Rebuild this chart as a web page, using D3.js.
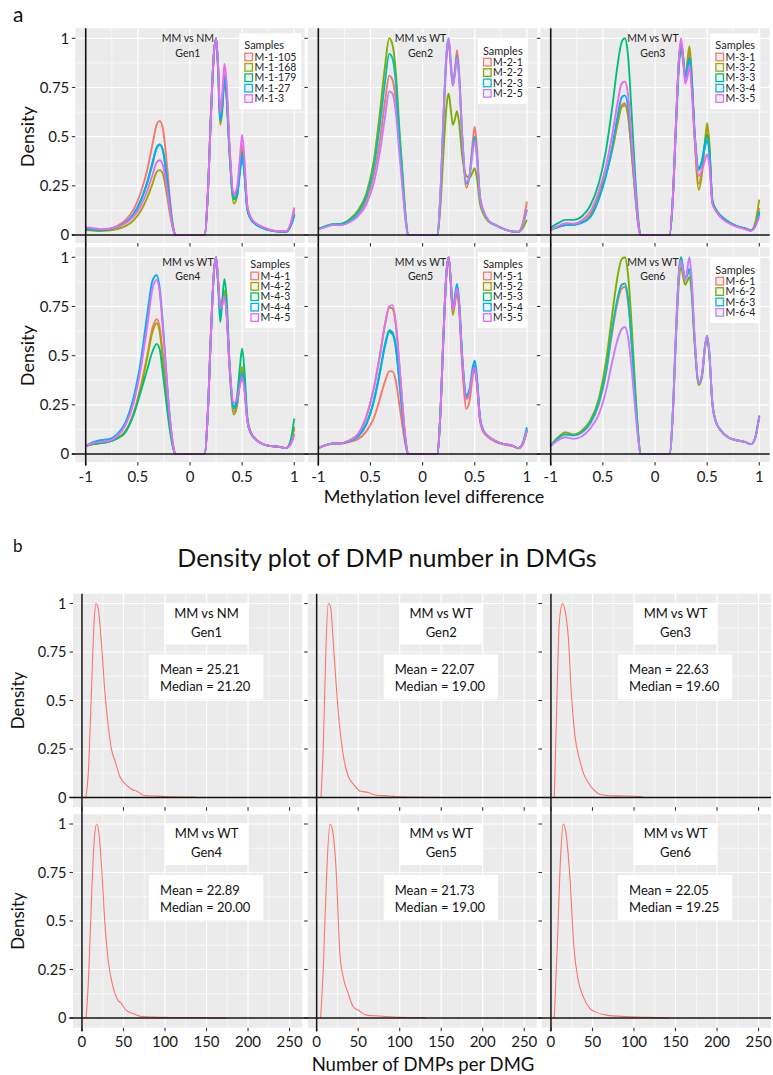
<!DOCTYPE html>
<html>
<head>
<meta charset="utf-8">
<script src="https://cdn.jsdelivr.net/npm/d3@7"></script>
<style>
  html, body { margin: 0; padding: 0; background: #ffffff; }
  svg { display: block; }
</style>
</head>
<body>
<svg id="chart" width="773" height="1075"></svg>
<script>
// ---------------- Panel a data: scaled density of methylation level difference ----------------
const methylationLevel = [
  -1, -0.93, -0.86, -0.78, -0.7, -0.62, -0.54, -0.47, -0.41, -0.36, -0.32, -0.29, -0.26, -0.22, -0.19, -0.16, -0.14,
  0.14, 0.17, 0.2, 0.23, 0.25, 0.27, 0.29, 0.31, 0.33, 0.35, 0.38, 0.42, 0.45, 0.48, 0.5, 0.52, 0.55, 0.58, 0.63, 0.7, 0.78, 0.86, 0.92, 0.96, 1.0
];

const gen1Samples = ["M-1-105", "M-1-168", "M-1-179", "M-1-27", "M-1-3"];
const gen1Density = [
  [0.03,0.028,0.026,0.03,0.045,0.075,0.13,0.22,0.33,0.46,0.56,0.58,0.54,0.35,0.17,0.04,0,
   0,0.2,0.6,0.93,1.0,0.85,0.6,0.68,0.82,0.74,0.43,0.2,0.22,0.37,0.46,0.36,0.14,0.09,0.06,0.04,0.025,0.018,0.018,0.045,0.13],
  [0.025,0.022,0.02,0.022,0.03,0.045,0.075,0.125,0.19,0.26,0.32,0.33,0.31,0.2,0.1,0.025,0,
   0,0.2,0.6,0.93,1.0,0.83,0.56,0.63,0.78,0.7,0.4,0.16,0.19,0.35,0.43,0.34,0.13,0.085,0.055,0.035,0.022,0.016,0.016,0.04,0.11],
  [0.03,0.026,0.024,0.028,0.04,0.062,0.105,0.175,0.265,0.36,0.44,0.46,0.43,0.28,0.14,0.032,0,
   0,0.2,0.6,0.93,1.0,0.84,0.58,0.66,0.8,0.72,0.42,0.18,0.2,0.34,0.42,0.33,0.13,0.085,0.055,0.035,0.022,0.017,0.016,0.04,0.1],
  [0.035,0.03,0.027,0.03,0.042,0.064,0.108,0.18,0.27,0.37,0.445,0.46,0.43,0.28,0.14,0.032,0,
   0,0.2,0.6,0.93,1.0,0.84,0.58,0.66,0.8,0.72,0.42,0.19,0.2,0.32,0.4,0.32,0.13,0.085,0.055,0.035,0.022,0.017,0.016,0.04,0.1],
  [0.04,0.035,0.03,0.032,0.042,0.06,0.095,0.15,0.225,0.305,0.37,0.38,0.355,0.23,0.115,0.027,0,
   0,0.2,0.6,0.93,1.0,0.86,0.62,0.72,0.87,0.78,0.45,0.21,0.24,0.4,0.51,0.4,0.15,0.095,0.06,0.04,0.025,0.02,0.02,0.05,0.14]
];

const gen2Samples = ["M-2-1", "M-2-2", "M-2-3", "M-2-5"];
const gen2Density = [
  [0.03,0.044,0.052,0.053,0.07,0.105,0.175,0.3,0.48,0.68,0.81,0.79,0.7,0.44,0.24,0.065,0,
   0,0.19,0.58,0.9,0.97,0.86,0.76,0.84,0.94,0.83,0.5,0.24,0.3,0.47,0.55,0.45,0.2,0.13,0.075,0.05,0.03,0.018,0.016,0.06,0.17],
  [0.03,0.045,0.055,0.058,0.08,0.125,0.21,0.37,0.62,0.86,1.0,0.97,0.85,0.52,0.3,0.08,0,
   0,0.14,0.42,0.66,0.72,0.64,0.56,0.59,0.63,0.57,0.4,0.3,0.29,0.32,0.34,0.29,0.16,0.11,0.07,0.05,0.03,0.018,0.016,0.035,0.077],
  [0.03,0.045,0.055,0.056,0.075,0.115,0.195,0.34,0.56,0.78,0.92,0.9,0.79,0.49,0.27,0.075,0,
   0,0.2,0.6,0.93,1.0,0.88,0.76,0.83,0.91,0.81,0.5,0.26,0.3,0.44,0.5,0.41,0.19,0.125,0.075,0.05,0.03,0.018,0.017,0.05,0.13],
  [0.028,0.04,0.05,0.05,0.065,0.095,0.155,0.26,0.42,0.6,0.73,0.72,0.64,0.4,0.22,0.06,0,
   0,0.2,0.6,0.93,1.0,0.88,0.76,0.82,0.9,0.8,0.5,0.27,0.3,0.42,0.48,0.4,0.19,0.125,0.075,0.05,0.03,0.018,0.017,0.05,0.13]
];

const gen3Samples = ["M-3-1", "M-3-2", "M-3-3", "M-3-4", "M-3-5"];
const gen3Density = [
  [0.026,0.04,0.05,0.052,0.065,0.1,0.2,0.31,0.44,0.57,0.66,0.67,0.62,0.4,0.21,0.05,0,
   0,0.18,0.55,0.89,0.98,0.9,0.8,0.86,0.93,0.82,0.5,0.26,0.33,0.47,0.55,0.46,0.17,0.13,0.095,0.065,0.045,0.033,0.023,0.05,0.137],
  [0.026,0.04,0.05,0.052,0.065,0.1,0.2,0.31,0.43,0.56,0.65,0.66,0.61,0.39,0.21,0.05,0,
   0,0.18,0.55,0.89,0.98,0.91,0.8,0.88,0.96,0.84,0.5,0.23,0.31,0.48,0.57,0.48,0.17,0.13,0.095,0.065,0.045,0.033,0.023,0.06,0.18],
  [0.038,0.06,0.077,0.077,0.095,0.15,0.26,0.43,0.65,0.86,0.98,1.0,0.92,0.58,0.3,0.08,0,
   0,0.17,0.53,0.86,0.95,0.88,0.8,0.85,0.9,0.8,0.52,0.34,0.38,0.47,0.51,0.44,0.18,0.135,0.1,0.07,0.047,0.035,0.025,0.045,0.11],
  [0.026,0.04,0.05,0.052,0.062,0.09,0.18,0.3,0.45,0.6,0.7,0.71,0.66,0.42,0.22,0.055,0,
   0,0.18,0.55,0.89,0.98,0.9,0.8,0.85,0.9,0.8,0.52,0.33,0.37,0.45,0.48,0.42,0.17,0.13,0.095,0.065,0.045,0.033,0.023,0.045,0.12],
  [0.028,0.045,0.06,0.058,0.075,0.12,0.22,0.35,0.51,0.67,0.77,0.78,0.72,0.45,0.24,0.06,0,
   0,0.18,0.55,0.9,1.0,0.9,0.77,0.8,0.86,0.75,0.5,0.3,0.33,0.38,0.41,0.36,0.16,0.125,0.09,0.062,0.043,0.03,0.022,0.04,0.094]
];

const gen4Samples = ["M-4-1", "M-4-2", "M-4-3", "M-4-4", "M-4-5"];
const gen4Density = [
  [0.04,0.05,0.055,0.063,0.08,0.115,0.21,0.35,0.5,0.64,0.685,0.64,0.5,0.27,0.13,0.03,0,
   0,0.2,0.6,0.93,1.0,0.88,0.76,0.78,0.82,0.73,0.44,0.215,0.25,0.37,0.43,0.36,0.17,0.11,0.075,0.05,0.04,0.036,0.03,0.055,0.14],
  [0.04,0.05,0.055,0.063,0.08,0.115,0.205,0.34,0.49,0.62,0.665,0.62,0.48,0.26,0.125,0.03,0,
   0,0.2,0.6,0.93,1.0,0.87,0.73,0.77,0.83,0.74,0.43,0.2,0.24,0.38,0.444,0.37,0.17,0.11,0.075,0.05,0.04,0.036,0.03,0.05,0.13],
  [0.04,0.05,0.055,0.062,0.078,0.11,0.2,0.32,0.43,0.52,0.56,0.53,0.41,0.23,0.11,0.026,0,
   0,0.2,0.6,0.93,1.0,0.86,0.67,0.78,0.89,0.8,0.46,0.24,0.29,0.45,0.537,0.44,0.19,0.115,0.075,0.05,0.04,0.036,0.03,0.06,0.18],
  [0.04,0.06,0.07,0.075,0.1,0.16,0.29,0.48,0.71,0.88,0.91,0.84,0.66,0.36,0.17,0.04,0,
   0,0.2,0.6,0.93,1.0,0.87,0.72,0.76,0.8,0.72,0.44,0.23,0.26,0.36,0.41,0.35,0.17,0.11,0.075,0.05,0.04,0.036,0.03,0.045,0.1],
  [0.04,0.055,0.062,0.066,0.09,0.145,0.26,0.44,0.65,0.84,0.885,0.82,0.64,0.35,0.165,0.04,0,
   0,0.2,0.6,0.93,1.0,0.88,0.74,0.76,0.8,0.72,0.45,0.26,0.28,0.35,0.39,0.33,0.17,0.11,0.075,0.05,0.04,0.036,0.03,0.045,0.1]
];

const gen5Samples = ["M-5-1", "M-5-2", "M-5-3", "M-5-4", "M-5-5"];
const gen5Density = [
  [0.03,0.045,0.052,0.053,0.062,0.075,0.115,0.18,0.28,0.37,0.42,0.42,0.38,0.24,0.13,0.035,0,
   0,0.2,0.6,0.93,1.0,0.87,0.72,0.77,0.83,0.74,0.45,0.23,0.27,0.39,0.43,0.36,0.17,0.115,0.085,0.062,0.048,0.04,0.028,0.05,0.12],
  [0.03,0.045,0.054,0.055,0.07,0.1,0.19,0.33,0.5,0.66,0.745,0.74,0.67,0.43,0.23,0.06,0,
   0,0.2,0.6,0.93,1.0,0.87,0.706,0.77,0.84,0.75,0.47,0.28,0.31,0.41,0.44,0.37,0.18,0.12,0.09,0.065,0.05,0.043,0.03,0.05,0.12],
  [0.03,0.045,0.054,0.055,0.066,0.088,0.15,0.26,0.41,0.55,0.62,0.61,0.55,0.35,0.19,0.05,0,
   0,0.2,0.6,0.93,1.0,0.88,0.73,0.79,0.85,0.77,0.49,0.29,0.32,0.42,0.45,0.38,0.18,0.12,0.09,0.065,0.05,0.043,0.03,0.05,0.125],
  [0.03,0.045,0.054,0.055,0.066,0.09,0.155,0.27,0.42,0.56,0.63,0.62,0.56,0.36,0.19,0.05,0,
   0,0.2,0.6,0.93,1.0,0.88,0.74,0.8,0.864,0.78,0.5,0.3,0.33,0.44,0.476,0.4,0.19,0.125,0.09,0.065,0.05,0.043,0.03,0.055,0.136],
  [0.03,0.045,0.054,0.055,0.07,0.1,0.19,0.33,0.5,0.66,0.75,0.757,0.68,0.44,0.23,0.06,0,
   0,0.2,0.6,0.93,1.0,0.88,0.73,0.78,0.84,0.76,0.48,0.28,0.31,0.41,0.44,0.37,0.18,0.12,0.09,0.065,0.05,0.043,0.03,0.05,0.12]
];

const gen6Samples = ["M-6-1", "M-6-2", "M-6-3", "M-6-4"];
const gen6Density = [
  [0.043,0.08,0.1,0.095,0.11,0.155,0.25,0.41,0.62,0.77,0.84,0.85,0.78,0.53,0.29,0.085,0,
   0,0.2,0.6,0.93,1.0,0.94,0.89,0.91,0.94,0.86,0.58,0.36,0.4,0.55,0.6,0.52,0.26,0.17,0.12,0.085,0.07,0.062,0.05,0.08,0.195],
  [0.043,0.085,0.11,0.1,0.12,0.17,0.28,0.47,0.71,0.9,0.99,1.0,0.92,0.62,0.34,0.1,0,
   0,0.19,0.57,0.88,0.95,0.9,0.86,0.88,0.9,0.83,0.56,0.35,0.39,0.54,0.59,0.51,0.26,0.17,0.12,0.085,0.07,0.062,0.05,0.08,0.19],
  [0.043,0.08,0.1,0.095,0.112,0.16,0.26,0.42,0.64,0.79,0.86,0.867,0.8,0.54,0.3,0.09,0,
   0,0.2,0.6,0.93,1.0,0.94,0.89,0.91,0.94,0.86,0.58,0.36,0.4,0.55,0.6,0.52,0.26,0.17,0.12,0.085,0.07,0.062,0.05,0.08,0.195],
  [0.04,0.07,0.085,0.077,0.09,0.13,0.2,0.32,0.47,0.58,0.635,0.646,0.6,0.41,0.23,0.07,0,
   0,0.2,0.6,0.92,0.98,0.93,0.88,0.94,1.0,0.9,0.6,0.36,0.4,0.55,0.6,0.52,0.26,0.17,0.12,0.085,0.07,0.062,0.05,0.08,0.19]
];

// ---------------- Panel b data: density of DMP number per DMG ----------------
const dmpCountGen1 = [4.8, 7.6, 11.6, 14.8, 16.9, 19.7, 23.7, 27.7, 31.7, 35.7, 39.7, 45.7, 53.7, 61.7, 65.7, 73.7, 89.7, 110, 134, 140];
const dmpDensityGen1 = [0, 0.124, 0.57, 0.917, 1.0, 0.97, 0.78, 0.54, 0.366, 0.245, 0.19, 0.107, 0.064, 0.038, 0.034, 0.012, 0.007, 0.003, 0.002, 0];
const dmpCountGen2 = [5.2, 8, 11.2, 14, 16.8, 20, 24, 28, 32, 38, 44, 52, 62, 72, 88, 100, 150];
const dmpDensityGen2 = [0, 0.265, 0.78, 1.0, 0.98, 0.8, 0.55, 0.35, 0.22, 0.11, 0.07, 0.034, 0.026, 0.012, 0.008, 0.003, 0];
const dmpCountGen3 = [4, 6.8, 10, 14, 16.8, 20.8, 24.8, 28.8, 34.8, 38.8, 44.8, 50.8, 58.8, 70.8, 90.8, 107, 112];
const dmpDensityGen3 = [0, 0.44, 0.9, 1.0, 0.966, 0.83, 0.52, 0.32, 0.19, 0.128, 0.077, 0.043, 0.017, 0.009, 0.008, 0.005, 0];
const dmpCountGen4 = [5, 8, 12, 15, 17.7, 20.5, 23.6, 27.6, 31.5, 37.4, 43.3, 47.2, 53, 61, 72.8, 100, 140, 175];
const dmpDensityGen4 = [0, 0.21, 0.675, 0.93, 1.0, 0.95, 0.78, 0.49, 0.3, 0.16, 0.092, 0.075, 0.041, 0.024, 0.007, 0.003, 0.002, 0];
const dmpCountGen5 = [4.8, 8, 12, 16, 19.2, 23.2, 28, 32, 38, 44, 50, 60, 76, 100, 128, 132];
const dmpDensityGen5 = [0, 0.26, 0.74, 1.0, 0.966, 0.78, 0.33, 0.21, 0.127, 0.058, 0.041, 0.015, 0.01, 0.003, 0.002, 0];
const dmpCountGen6 = [4, 7.6, 11.6, 14.8, 17.6, 22.8, 27.6, 32.8, 38.8, 46.8, 54.8, 66.8, 90.8, 115, 143];
const dmpDensityGen6 = [0, 0.37, 0.83, 1.0, 0.966, 0.726, 0.366, 0.195, 0.11, 0.05, 0.029, 0.015, 0.007, 0.003, 0];

const dmpMean = ["25.21", "22.07", "22.63", "22.89", "21.73", "22.05"];
const dmpMedian = ["21.20", "19.00", "19.60", "20.00", "19.00", "19.25"];

// ---------------- Labels and ticks ----------------
const comparisons = ["MM vs NM", "MM vs WT", "MM vs WT", "MM vs WT", "MM vs WT", "MM vs WT"];
const generations = ["Gen1", "Gen2", "Gen3", "Gen4", "Gen5", "Gen6"];
const densityTicks = [0, 0.25, 0.5, 0.75, 1];
const densityTickLabels = ["0", "0.25", "0.5", "0.75", "1"];
const methTicks = [-1, -0.5, 0, 0.5, 1];
const methTickLabels = ["-1", "0.5", "0", "0.5", "1"];
const dmpTicks = [0, 50, 100, 150, 200, 250];
const dmpTickLabels = ["0", "50", "100", "150", "200", "250"];

const palette5 = ["#F8766D", "#A3A500", "#00BF7D", "#00B0F6", "#E76BF3"];
const palette4 = ["#F8766D", "#7CAE00", "#00BFC4", "#C77CFF"];

// ---------------- Drawing ----------------
const FONT = "Lato, 'Open Sans', 'DejaVu Sans', sans-serif";
const svg = d3.select("#chart").style("font-family", FONT);
const TICK = 3.5;

function drawBackground(g, x, y, xMajor, xMinor, yMajor, yMinor) {
  const [x0, x1] = x.range();
  const yTop = y(y.domain()[1]), yBot = y(y.domain()[0]);
  g.append("rect").attr("x", x0).attr("y", yTop).attr("width", x1 - x0).attr("height", yBot - yTop).attr("fill", "#EBEBEB");
  g.selectAll(null).data(xMinor).enter().append("line")
    .attr("x1", d => x(d)).attr("x2", d => x(d)).attr("y1", yTop).attr("y2", yBot)
    .attr("stroke", "#fff").attr("stroke-width", 0.6);
  g.selectAll(null).data(yMinor).enter().append("line")
    .attr("y1", d => y(d)).attr("y2", d => y(d)).attr("x1", x0).attr("x2", x1)
    .attr("stroke", "#fff").attr("stroke-width", 0.6);
  g.selectAll(null).data(xMajor).enter().append("line")
    .attr("x1", d => x(d)).attr("x2", d => x(d)).attr("y1", yTop).attr("y2", yBot)
    .attr("stroke", "#fff").attr("stroke-width", 1.2);
  g.selectAll(null).data(yMajor).enter().append("line")
    .attr("y1", d => y(d)).attr("y2", d => y(d)).attr("x1", x0).attr("x2", x1)
    .attr("stroke", "#fff").attr("stroke-width", 1.2);
}

function drawTicks(g, x, y, xTicks, yTicks) {
  const [x0] = x.range();
  const yBot = y(y.domain()[0]);
  g.selectAll(null).data(yTicks).enter().append("line")
    .attr("x1", x0 - TICK).attr("x2", x0).attr("y1", d => y(d)).attr("y2", d => y(d))
    .attr("stroke", "#333").attr("stroke-width", 1.1);
  g.selectAll(null).data(xTicks).enter().append("line")
    .attr("x1", d => x(d)).attr("x2", d => x(d)).attr("y1", yBot).attr("y2", yBot + TICK)
    .attr("stroke", "#333").attr("stroke-width", 1.1);
}

function drawYLabels(g, x, y, gap, size) {
  const x0 = x.range()[0];
  g.selectAll(null).data(densityTicks).enter().append("text")
    .attr("x", x0 - TICK - gap).attr("y", d => y(d)).attr("dy", "0.35em")
    .attr("text-anchor", "end").attr("font-size", size).attr("fill", "#1a1a1a")
    .text((d, i) => densityTickLabels[i]);
}

function drawXLabels(g, x, y, ticks, labels, baseline, size) {
  g.selectAll(null).data(ticks).enter().append("text")
    .attr("x", d => x(d)).attr("y", baseline)
    .attr("text-anchor", "middle").attr("font-size", size).attr("fill", "#1a1a1a")
    .text((d, i) => labels[i]);
}

// ---- Panel a ----
const aCols = [75.3, 307.9, 540.3];
const aWidth = 229.4;
const aRows = [{ zero: 235, one: 38.3 }, { zero: 454, one: 257.3 }];
const aDomainY = [-0.041, 1.051];
const aSets = [
  [gen1Samples, gen1Density], [gen2Samples, gen2Density], [gen3Samples, gen3Density],
  [gen4Samples, gen4Density], [gen5Samples, gen5Density], [gen6Samples, gen6Density]
];
const aLabelY = [[1.0, 0.925], [0.975, 0.905]];

const gA = svg.append("g");
const aScales = [];
aSets.forEach((set, p) => {
  const col = p % 3, row = Math.floor(p / 3);
  const x = d3.scaleLinear().domain([-1.1, 1.1]).range([aCols[col], aCols[col] + aWidth]);
  const yLin = d3.scaleLinear().domain([0, 1]).range([aRows[row].zero, aRows[row].one]);
  const y = d3.scaleLinear().domain(aDomainY).range([yLin(aDomainY[0]), yLin(aDomainY[1])]);
  aScales.push({ x, y });
  const g = gA.append("g");
  drawBackground(g, x, y, methTicks, [-0.75, -0.25, 0.25, 0.75], densityTicks, [0.125, 0.375, 0.625, 0.875]);
  drawTicks(g, x, y, methTicks, densityTicks);
  if (col === 0) drawYLabels(g, x, y, 2.5, 15);
  if (row === 1) drawXLabels(g, x, y, methTicks, methTickLabels, 482, 15);

  const [samples, dens] = set;
  const colors = samples.length === 5 ? palette5 : palette4;
  const line = d3.line().x(d => x(d[0])).y(d => y(d[1])).curve(d3.curveMonotoneX);
  dens.forEach((vals, i) => {
    const pts = methylationLevel.map((m, k) => [m, vals[k]]);
    g.append("path").attr("d", line(pts)).attr("fill", "none")
      .attr("stroke", colors[i]).attr("stroke-width", 1.9).attr("stroke-linejoin", "round");
  });

  // comparison label
  g.append("text").attr("x", x(-0.02)).attr("y", y(aLabelY[row][0])).attr("dy", "0.35em")
    .attr("text-anchor", "middle").attr("font-size", 10.5).attr("fill", "#222").text(comparisons[p]);
  g.append("text").attr("x", x(-0.02)).attr("y", y(aLabelY[row][1])).attr("dy", "0.35em")
    .attr("text-anchor", "middle").attr("font-size", 10.5).attr("fill", "#222").text(generations[p]);

  // legend
  const lg = g.append("g");
  const bg = lg.append("rect").attr("fill", "#fff");
  lg.append("text").attr("x", 0).attr("y", 0).attr("dy", "0.35em").attr("font-size", 11).attr("fill", "#222").text("Samples");
  samples.forEach((s, i) => {
    const cy = 11.5 + i * 10.4;
    lg.append("rect").attr("x", 0.6).attr("y", cy - 3.8).attr("width", 7.6).attr("height", 7.6)
      .attr("fill", "#f2f2f2").attr("stroke", colors[i]).attr("stroke-width", 1.3);
    lg.append("text").attr("x", 10.2).attr("y", cy).attr("dy", "0.35em").attr("font-size", 10.5).attr("fill", "#222").text(s);
  });
  const bb = lg.node().getBBox();
  bg.attr("x", bb.x - 5).attr("y", bb.y - 5).attr("width", bb.width + 10).attr("height", bb.height + 10);
  const cx = x.range()[0] + 195, cyC = y(aDomainY[1]) + 43;
  lg.attr("transform", `translate(${cx - (bb.x + bb.width / 2)},${cyC - (bb.y + bb.height / 2)})`);
});

// axis lines of panel a
[0, 1, 2].forEach(col => {
  const { x } = aScales[col];
  const yTop = aScales[col].y(aDomainY[1]);
  const yBot = aScales[col + 3].y(aDomainY[0]);
  gA.append("line").attr("x1", x(-1)).attr("x2", x(-1)).attr("y1", yTop).attr("y2", yBot + TICK)
    .attr("stroke", "#111").attr("stroke-width", 1.6);
});
[0, 1].forEach(row => {
  const { y } = aScales[row * 3];
  gA.append("line").attr("x1", aCols[0] - TICK).attr("x2", aCols[2] + aWidth)
    .attr("y1", y(0)).attr("y2", y(0)).attr("stroke", "#111").attr("stroke-width", 1.6);
});

// titles of panel a
gA.append("text").attr("x", 13).attr("y", 22).attr("font-size", 21).attr("fill", "#111").text("a");
[0, 1].forEach(row => {
  const cy = (aRows[row].zero + aRows[row].one) / 2;
  gA.append("text").attr("transform", `translate(28,${cy}) rotate(-90)`).attr("dy", "0.35em")
    .attr("text-anchor", "middle").attr("font-size", 18).attr("fill", "#111").text("Density");
});
gA.append("text").attr("x", 434).attr("y", 497).attr("dy", "0.35em").attr("text-anchor", "middle")
  .attr("font-size", 18).attr("fill", "#111").text("Methylation level difference");

// ---- Panel b ----
const bCols = [73, 307.7, 542];
const bWidth = 229;
const bRows = [{ zero: 797.5, one: 603.5 }, { zero: 1018, one: 824 }];
const bDomainY = [-0.05, 1.05];
const bSets = [
  [dmpCountGen1, dmpDensityGen1], [dmpCountGen2, dmpDensityGen2], [dmpCountGen3, dmpDensityGen3],
  [dmpCountGen4, dmpDensityGen4], [dmpCountGen5, dmpDensityGen5], [dmpCountGen6, dmpDensityGen6]
];

const gB = svg.append("g");
const bScales = [];
bSets.forEach((set, p) => {
  const col = p % 3, row = Math.floor(p / 3);
  const x = d3.scaleLinear().domain([-10.8, 265]).range([bCols[col], bCols[col] + bWidth]);
  const yLin = d3.scaleLinear().domain([0, 1]).range([bRows[row].zero, bRows[row].one]);
  const y = d3.scaleLinear().domain(bDomainY).range([yLin(bDomainY[0]), yLin(bDomainY[1])]);
  bScales.push({ x, y });
  const g = gB.append("g");
  drawBackground(g, x, y, dmpTicks, [25, 75, 125, 175, 225], densityTicks, [0.125, 0.375, 0.625, 0.875]);
  drawTicks(g, x, y, dmpTicks, densityTicks);
  if (col === 0) drawYLabels(g, x, y, 3, 14.5);
  if (row === 1) drawXLabels(g, x, y, dmpTicks, dmpTickLabels, 1047, 15);

  const [cnt, dens] = set;
  const line = d3.line().x(d => x(d[0])).y(d => y(d[1])).curve(d3.curveMonotoneX);
  g.append("path").attr("d", line(cnt.map((c, k) => [c, dens[k]]))).attr("fill", "none")
    .attr("stroke", "#F8766D").attr("stroke-width", 1.1);

  // comparison box
  const box1 = g.append("g");
  const r1 = box1.append("rect").attr("fill", "#fff");
  const t1 = box1.append("text").attr("x", x(150)).attr("y", y(0.95)).attr("dy", "0.35em")
    .attr("text-anchor", "middle").attr("font-size", 13).attr("fill", "#111").text(comparisons[p]);
  box1.append("text").attr("x", x(150)).attr("y", y(0.853)).attr("dy", "0.35em")
    .attr("text-anchor", "middle").attr("font-size", 13).attr("fill", "#111").text(generations[p]);
  const w1 = t1.node().getComputedTextLength();
  r1.attr("x", x(150) - w1 / 2 - 10).attr("y", y(0.95) - 10.5)
    .attr("width", w1 + 20).attr("height", y(0.853) - y(0.95) + 23);

  // statistics box
  const box2 = g.append("g");
  const r2 = box2.append("rect").attr("fill", "#fff");
  box2.append("text").attr("x", x(94)).attr("y", y(0.66)).attr("dy", "0.35em")
    .attr("font-size", 13).attr("fill", "#111").text(`Mean = ${dmpMean[p]}`);
  const t2 = box2.append("text").attr("x", x(94)).attr("y", y(0.572)).attr("dy", "0.35em")
    .attr("font-size", 13).attr("fill", "#111").text(`Median = ${dmpMedian[p]}`);
  const w2 = t2.node().getComputedTextLength();
  r2.attr("x", x(94) - 11).attr("y", y(0.66) - 15).attr("width", w2 + 24).attr("height", y(0.572) - y(0.66) + 28);
});

[0, 1, 2].forEach(col => {
  const { x } = bScales[col];
  const yTop = bScales[col].y(bDomainY[1]);
  const yBot = bScales[col + 3].y(bDomainY[0]);
  gB.append("line").attr("x1", x(0)).attr("x2", x(0)).attr("y1", yTop).attr("y2", yBot + TICK)
    .attr("stroke", "#111").attr("stroke-width", 1.5);
});
[0, 1].forEach(row => {
  const { y } = bScales[row * 3];
  gB.append("line").attr("x1", bCols[0] - TICK).attr("x2", bCols[2] + bWidth)
    .attr("y1", y(0)).attr("y2", y(0)).attr("stroke", "#111").attr("stroke-width", 1.5);
});

gB.append("text").attr("x", 13).attr("y", 552).attr("font-size", 17).attr("fill", "#111").text("b");
gB.append("text").attr("x", 387).attr("y", 558).attr("dy", "0.35em").attr("text-anchor", "middle")
  .attr("font-size", 25).attr("fill", "#111").text("Density plot of DMP number in DMGs");
[0, 1].forEach(row => {
  const cy = (bRows[row].zero + bRows[row].one) / 2;
  gB.append("text").attr("transform", `translate(18,${cy}) rotate(-90)`).attr("dy", "0.35em")
    .attr("text-anchor", "middle").attr("font-size", 17).attr("fill", "#111").text("Density");
});
gB.append("text").attr("x", 423).attr("y", 1065).attr("dy", "0.35em").attr("text-anchor", "middle")
  .attr("font-size", 18.5).attr("fill", "#111").text("Number of DMPs per DMG");
</script>
</body>
</html>
